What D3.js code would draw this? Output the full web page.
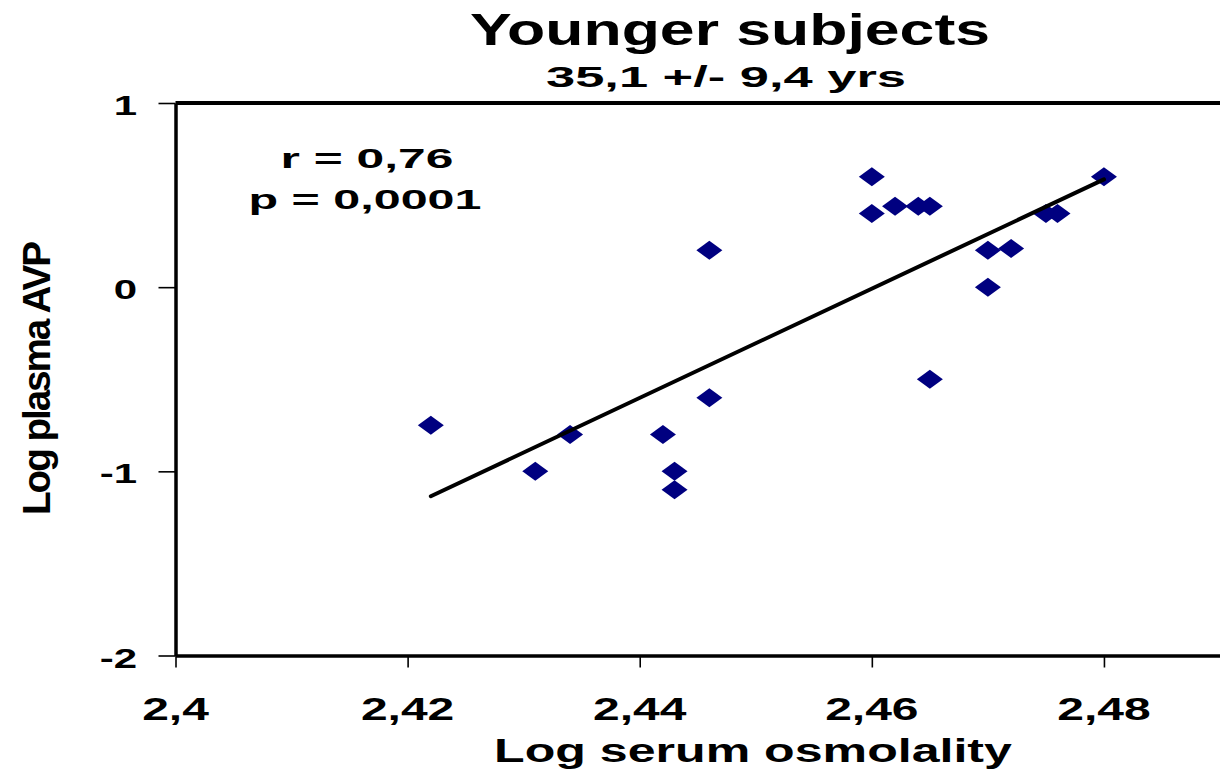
<!DOCTYPE html>
<html>
<head>
<meta charset="utf-8">
<script src="https://cdn.jsdelivr.net/npm/d3@7"></script>
<style>
  html, body { margin: 0; padding: 0; background: #fff; }
  svg { display: block; }
  text { font-family: "Liberation Sans", Arial, sans-serif; font-weight: bold; fill: #000; }
</style>
</head>
<body>
<svg id="chart" width="1220" height="772"></svg>
<script>
// ---- data ----
const osmolality = [2.422, 2.431, 2.434, 2.442, 2.443, 2.443, 2.446, 2.446, 2.460, 2.460,
                    2.462, 2.464, 2.465, 2.465, 2.470, 2.470, 2.472, 2.475, 2.476, 2.480];
const plasmaAVP  = [-0.75, -1.00, -0.80, -0.80, -1.00, -1.10, -0.60, 0.20, 0.60, 0.40,
                     0.44,  0.44,  0.44, -0.50,  0.20,  0.00, 0.21, 0.40, 0.40, 0.60];
const fitX = [2.422, 2.480];
const fitY = [-1.135, 0.585];
const xTicks = [2.40, 2.42, 2.44, 2.46, 2.48];
const xTickLabels = ["2,4", "2,42", "2,44", "2,46", "2,48"];
const yTicks = [1, 0, -1, -2];
const yTickLabels = ["1", "0", "-1", "-2"];
const titleText = "Younger subjects";
const subtitleText = "35,1 +/- 9,4 yrs";
const statLines = ["r = 0,76", "p = 0,0001"];
const xLabel = "Log serum osmolality";
const yLabel = "Log plasma AVP";

(function () {
// ---- layout ----
const svg = d3.select("#chart");
const pLeft = 175.5, pRight = 1220, pTop = 103, pBottom = 655.5;
const x = d3.scaleLinear().domain([2.40, 2.49]).range([pLeft, pRight]);
const y = d3.scaleLinear().domain([-2, 1]).range([pBottom, pTop]);

function fitText(parent, str, cx, base, fs, width, anchor) {
  const t = parent.append("text")
    .attr("text-anchor", anchor || "middle")
    .attr("font-size", fs)
    .text(str);
  const len = t.node().getComputedTextLength();
  const sx = width / len;
  t.attr("transform", `translate(${cx},${base}) scale(${sx},1)`);
  return t;
}
function stretchText(parent, str, px, base, fs, sx, anchor) {
  return parent.append("text")
    .attr("text-anchor", anchor || "middle")
    .attr("font-size", fs)
    .attr("transform", `translate(${px},${base}) scale(${sx},1)`)
    .text(str);
}

// ---- axes ----
const yAxis = d3.axisLeft(y).tickValues(yTicks).tickSize(17).tickSizeOuter(0).tickFormat("");
const gy = svg.append("g").attr("transform", `translate(${pLeft},0)`).call(yAxis);
gy.select(".domain").attr("stroke", "#000").attr("stroke-width", 3.5);
gy.selectAll(".tick line").attr("stroke", "#000").attr("stroke-width", 1.6);

const xAxis = d3.axisBottom(x).tickValues(xTicks).tickSize(12).tickSizeOuter(0).tickFormat("");
const gx = svg.append("g").attr("transform", `translate(0,${pBottom})`).call(xAxis);
gx.select(".domain").attr("stroke", "#000").attr("stroke-width", 3.5);
gx.selectAll(".tick line").attr("stroke", "#000").attr("stroke-width", 1.6);

// top frame line
svg.append("line")
  .attr("x1", x(2.40)).attr("x2", x(2.49))
  .attr("y1", y(1)).attr("y2", y(1))
  .attr("stroke", "#000").attr("stroke-width", 4);

// tick labels
xTicks.forEach((v, i) => stretchText(svg, xTickLabels[i], x(v), 720, 32, 1.5, "middle"));
yTicks.forEach((v, i) => stretchText(svg, yTickLabels[i], 137, y(v) + 12, 28, 1.5, "end"));

// ---- points ----
const pts = osmolality.map((v, i) => ({ x: v, y: plasmaAVP[i] }));
svg.append("g").selectAll("path").data(pts).enter().append("path")
  .attr("d", d => {
    const cx = x(d.x), cy = y(d.y), w = 13, h = 9.5;
    return `M${cx - w},${cy} L${cx},${cy - h} L${cx + w},${cy} L${cx},${cy + h} Z`;
  })
  .attr("fill", "#000080");

// ---- regression line ----
svg.append("path")
  .datum(fitX.map((v, i) => [v, fitY[i]]))
  .attr("d", d3.line().x(d => x(d[0])).y(d => y(d[1])))
  .attr("stroke", "#000").attr("stroke-width", 4)
  .attr("stroke-linecap", "round").attr("fill", "none");

// ---- titles & labels ----
fitText(svg, titleText, 730, 45, 45, 520);
fitText(svg, subtitleText, 726, 87, 30, 360);
fitText(svg, statLines[0], 367, 168, 28, 173);
fitText(svg, statLines[1], 365, 209, 28, 233);
fitText(svg, xLabel, 753, 762, 34, 518);

// y label (rotated, squeezed along its length)
const yl = svg.append("text")
  .attr("text-anchor", "middle")
  .attr("font-size", 38)
  .attr("letter-spacing", -2)
  .text(yLabel);
const ylen = yl.node().getComputedTextLength();
yl.attr("transform", `translate(50,379) rotate(-90) scale(${272 / ylen},1)`);
})();
</script>
</body>
</html>
